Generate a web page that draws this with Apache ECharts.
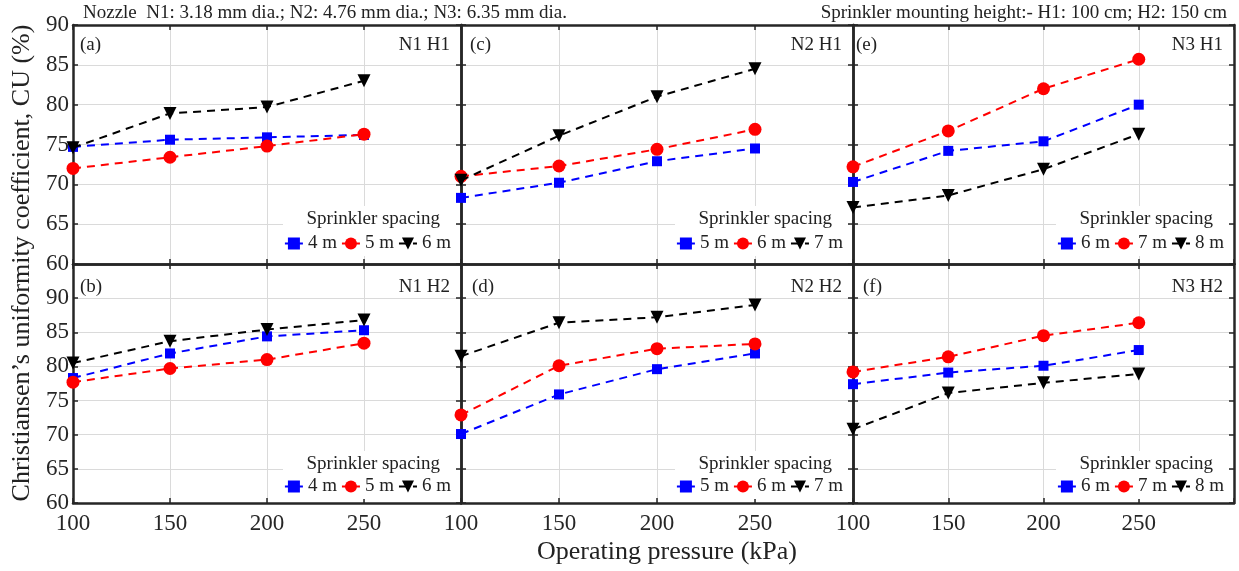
<!DOCTYPE html>
<html><head><meta charset="utf-8">
<script src="https://cdn.jsdelivr.net/npm/echarts@6/dist/echarts.min.js"></script>
<style>html,body{margin:0;padding:0;background:#fff}#c{width:1239px;height:571px}</style>
</head><body><div id="c"></div>
<script>
// ---------- data ----------
const pressure = [100, 150, 200, 250];
const panelLabels = ['(a)', '(c)', '(e)', '(b)', '(d)', '(f)'];
const panelTags = ['N1 H1', 'N2 H1', 'N3 H1', 'N1 H2', 'N2 H2', 'N3 H2'];
const spacingA = ['4 m', '5 m', '6 m'];
const spacingC = ['5 m', '6 m', '7 m'];
const spacingE = ['6 m', '7 m', '8 m'];
const spacingB = ['4 m', '5 m', '6 m'];
const spacingD = ['5 m', '6 m', '7 m'];
const spacingF = ['6 m', '7 m', '8 m'];
// (a) N1 H1
const cuA4 = [74.7, 75.6, 75.9, 76.2];
const cuA5 = [72.0, 73.4, 74.8, 76.3];
const cuA6 = [74.6, 78.9, 79.7, 83.0];
// (c) N2 H1
const cuC5 = [68.3, 70.2, 72.9, 74.5];
const cuC6 = [71.0, 72.3, 74.4, 76.9];
const cuC7 = [70.5, 76.1, 81.0, 84.5];
// (e) N3 H1
const cuE6 = [70.3, 74.2, 75.4, 80.0];
const cuE7 = [72.2, 76.7, 82.0, 85.7];
const cuE8 = [67.1, 68.6, 71.9, 76.3];
// (b) N1 H2
const cuB4 = [78.3, 81.9, 84.4, 85.3];
const cuB5 = [77.7, 79.7, 81.0, 83.4];
const cuB6 = [80.5, 83.7, 85.4, 86.8];
// (d) N2 H2
const cuD5 = [70.1, 75.9, 79.6, 81.9];
const cuD6 = [72.9, 80.1, 82.6, 83.3];
const cuD7 = [81.5, 86.4, 87.2, 89.0];
// (f) N3 H2
const cuF6 = [77.4, 79.1, 80.1, 82.4];
const cuF7 = [79.2, 81.4, 84.5, 86.4];
const cuF8 = [70.8, 76.1, 77.6, 78.9];

const yMaxByRow = [90, 95];
const topNote = 'Nozzle  N1: 3.18 mm dia.; N2: 4.76 mm dia.; N3: 6.35 mm dia.';
const topNoteRight = 'Sprinkler mounting height:- H1: 100 cm; H2: 150 cm';
const yTitle = 'Christiansen\u2019s uniformity coefficient, CU (%)';
const xTitle = 'Operating pressure (kPa)';
const legendTitle = 'Sprinkler spacing';

const panels = [
  {spacing: spacingA, vals: [cuA4, cuA5, cuA6]},
  {spacing: spacingC, vals: [cuC5, cuC6, cuC7]},
  {spacing: spacingE, vals: [cuE6, cuE7, cuE8]},
  {spacing: spacingB, vals: [cuB4, cuB5, cuB6]},
  {spacing: spacingD, vals: [cuD5, cuD6, cuD7]},
  {spacing: spacingF, vals: [cuF6, cuF7, cuF8]}
];

// ---------- layout / style ----------
const W = 1239;
const colLeft = [73, 461, 853];
const colWidth = [388, 392, 381];
const rowTop = [25, 264];
const rowHeight = [239, 239];
const labelLeftOff = [7, 9, 3, 7, 11, 10];
const tagOff = [20, 23];
const legTitleOff = [45, 39];
const legItemOff = [20, 16];
const colors = ['#0000ff', '#ff0000', '#000000'];
const symbols = ['rect', 'circle', 'triangle'];
const symSizes = [10, 13, 13];
const symRot = [0, 0, 180];
const FONT = '"Liberation Serif", "DejaVu Serif", serif';
const AX = '#262626';

const grid = [], xAxis = [], yAxis = [], series = [], legend = [], graphic = [];

panels.forEach((p, i) => {
  const r = Math.floor(i / 3), c = i % 3;
  const left = colLeft[c], top = rowTop[r], w = colWidth[c], h = rowHeight[r];
  grid.push({left, top, width: w, height: h, containLabel: false});
  const ymax = yMaxByRow[r];
  xAxis.push({
    gridIndex: i, type: 'value', min: 100, max: 300, interval: 50, position: 'bottom',
    axisLine: {show: true, lineStyle: {color: AX, width: 2.5}},
    axisTick: {show: true, inside: true, length: 5, lineStyle: {color: AX, width: 1.5}},
    axisLabel: {show: r === 1, margin: 9, fontFamily: FONT, fontSize: 23, color: AX,
      formatter: v => (v === 300 ? '' : String(v))},
    splitLine: {show: true, lineStyle: {color: '#dadada', width: 1}}
  });
  xAxis.push({
    gridIndex: i, type: 'value', min: 100, max: 300, interval: 50, position: 'top',
    axisLine: {show: true, lineStyle: {color: AX, width: 2.5}},
    axisTick: {show: true, inside: true, length: 5, lineStyle: {color: AX, width: 1.5}},
    axisLabel: {show: false}, splitLine: {show: false}
  });
  yAxis.push({
    gridIndex: i, type: 'value', min: 60, max: ymax, interval: 5, position: 'left',
    axisLine: {show: true, lineStyle: {color: AX, width: 2.5}},
    axisTick: {show: true, inside: true, length: 5, lineStyle: {color: AX, width: 1.5}},
    axisLabel: {show: c === 0, margin: 4, fontFamily: FONT, fontSize: 23, color: AX,
      formatter: v => (v > 90 ? '' : String(v))},
    splitLine: {show: true, lineStyle: {color: '#dadada', width: 1}}
  });
  yAxis.push({
    gridIndex: i, type: 'value', min: 60, max: ymax, interval: 5, position: 'right',
    axisLine: {show: true, lineStyle: {color: AX, width: 2.5}},
    axisTick: {show: true, inside: true, length: 5, lineStyle: {color: AX, width: 1.5}},
    axisLabel: {show: false}, splitLine: {show: false}
  });
  const names = [];
  p.vals.forEach((vals, k) => {
    const name = panelTags[i] + '|' + p.spacing[k];
    names.push(name);
    series.push({
      name, type: 'line', xAxisIndex: 2 * i, yAxisIndex: 2 * i,
      data: pressure.map((x, j) => [x, vals[j]]),
      symbol: symbols[k], symbolSize: symSizes[k], symbolRotate: symRot[k],
      itemStyle: {color: colors[k]},
      lineStyle: {color: colors[k], width: 2, type: [8, 6]},
      z: 3 + k, animation: false
    });
  });
  const right = W - (left + w) + 10;
  legend.push({
    data: names, right, top: top + h - legItemOff[r] - 10, orient: 'horizontal',
    itemWidth: 18, itemHeight: 15, itemGap: 4, padding: 0, selectedMode: false,
    formatter: n => n.split('|')[1],
    textStyle: {fontFamily: FONT, fontSize: 19, color: '#222'}
  });
  // white legend box (hides grid lines like the reference)
  const boxTop = top + h - legTitleOff[r] - 13;
  const boxBottom = top + h - legItemOff[r] + 12;
  graphic.push({type: 'rect', z: 1, silent: true,
    shape: {x: left + w - 178, y: boxTop, width: 173, height: boxBottom - boxTop},
    style: {fill: '#ffffff'}});
  graphic.push({type: 'text', z: 5, x: left + w - 21, y: top + h - legTitleOff[r],
    style: {text: legendTitle, font: '19px ' + FONT, fill: '#222', textAlign: 'right', textVerticalAlign: 'middle'}});
  graphic.push({type: 'text', z: 5, x: left + labelLeftOff[i], y: top + tagOff[r],
    style: {text: panelLabels[i], font: '19px ' + FONT, fill: '#222', textAlign: 'left', textVerticalAlign: 'middle'}});
  graphic.push({type: 'text', z: 5, x: left + w - 11, y: top + tagOff[r],
    style: {text: panelTags[i], font: '19px ' + FONT, fill: '#222', textAlign: 'right', textVerticalAlign: 'middle'}});
});

graphic.push({type: 'text', x: 83, y: 13,
  style: {text: topNote, font: '19px ' + FONT, fill: '#222', textAlign: 'left', textVerticalAlign: 'middle'}});
graphic.push({type: 'text', x: 1227, y: 13,
  style: {text: topNoteRight, font: '19px ' + FONT, fill: '#222', textAlign: 'right', textVerticalAlign: 'middle'}});
graphic.push({type: 'text', x: 667, y: 552,
  style: {text: xTitle, font: '26px ' + FONT, fill: '#222', textAlign: 'center', textVerticalAlign: 'middle'}});
graphic.push({type: 'text', x: 22, y: 263, rotation: Math.PI / 2,
  style: {text: yTitle, font: '26px ' + FONT, fill: '#222', textAlign: 'center', textVerticalAlign: 'middle'}});

const chart = echarts.init(document.getElementById('c'), null, {renderer: 'canvas'});
chart.setOption({animation: false, backgroundColor: '#fff', grid, xAxis, yAxis, series, legend, graphic});
</script>
</body></html>
